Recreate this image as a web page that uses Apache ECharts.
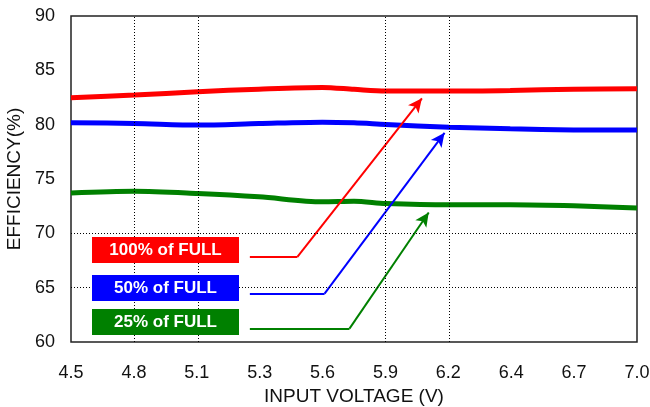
<!DOCTYPE html>
<html>
<head>
<meta charset="utf-8">
<script src="https://cdn.jsdelivr.net/npm/echarts@6/dist/echarts.min.js"></script>
<style>html,body{margin:0;padding:0;background:#fff}#c{width:650px;height:407px}</style>
</head>
<body>
<div id="c"></div>
<script>
// Data
var xTickLabels = ['4.5','4.8','5.1','5.3','5.6','5.9','6.2','6.4','6.7','7.0'];
var voltage = [4.5, 4.78, 5.06, 5.33, 5.61, 5.75, 5.89, 6.17, 6.44, 6.72, 7.0];
var eff100 = [82.47, 82.72, 83.03, 83.27, 83.43, 83.25, 83.09, 83.09, 83.15, 83.27, 83.3];
var eff50  = [80.17, 80.11, 79.96, 80.1, 80.23, 80.17, 80.02, 79.77, 79.62, 79.52, 79.5];
var eff25  = [73.72, 73.88, 73.67, 73.36, 72.9, 72.95, 72.75, 72.62, 72.62, 72.53, 72.34];
var seriesNames = ['100% of FULL', '50% of FULL', '25% of FULL'];
var seriesColors = ['#ff0000', '#0000ff', '#008000'];
// leader lines: [start, bend, arrow tip] in data units
var leader100 = [[5.29, 67.83], [5.50, 67.83], [6.05, 82.42]];
var leader50  = [[5.29, 64.46], [5.62, 64.46], [6.15, 79.25]];
var leader25  = [[5.29, 61.23], [5.73, 61.23], [6.08, 71.92]];
var gridY = [65, 70];
var gridXIdx = [1, 2, 5, 6];

var xMin = 4.5, xMax = 7.0, xStep = (xMax - xMin) / (xTickLabels.length - 1);
var font = '"Liberation Sans", Arial, sans-serif';

function pairs(xs, ys) { return xs.map(function (x, i) { return [x, ys[i]]; }); }
function leaderLines(pts, color) {
  return {
    silent: true, animation: false, z: 5,
    label: {show: false},
    lineStyle: {color: color, width: 2, type: 'solid'},
    data: [
      [{coord: pts[0], symbol: 'none'}, {coord: pts[1], symbol: 'none'}],
      [{coord: pts[1], symbol: 'none'}, {coord: pts[2], symbol: 'arrow', symbolSize: [10, 14]}]
    ]
  };
}
var leaders = [leader100, leader50, leader25];
var effs = [eff100, eff50, eff25];

var series = effs.map(function (e, i) {
  return {
    name: seriesNames[i], type: 'line', data: pairs(voltage, e),
    showSymbol: false, smooth: 0.3, z: 3,
    lineStyle: {color: seriesColors[i], width: 5},
    itemStyle: {color: seriesColors[i]},
    markLine: leaderLines(leaders[i], seriesColors[i])
  };
});
// dotted gridlines
series.push({
  type: 'line', data: [], z: 1, silent: true,
  markLine: {
    silent: true, symbol: 'none', label: {show: false}, animation: false,
    lineStyle: {color: '#000', width: 1, type: [1, 2]},
    data: gridY.map(function (v) { return {yAxis: v}; })
      .concat(gridXIdx.map(function (k) { return {xAxis: xMin + k * xStep}; }))
  }
});

var graphics = [];
var boxTops = [237, 275, 309];
seriesNames.forEach(function (n, i) {
  graphics.push({
    type: 'rect', left: 92, top: boxTops[i], z: 10,
    shape: {width: 147, height: 26},
    style: {fill: seriesColors[i]}
  });
  graphics.push({
    type: 'text', x: 92 + 73.5, y: boxTops[i] + 13, z: 11,
    style: {text: n, fill: '#fff', font: 'bold 17px ' + font, textAlign: 'center', textVerticalAlign: 'middle'}
  });
});

var chart = echarts.init(document.getElementById('c'), null, {renderer: 'canvas'});
chart.setOption({
  animation: false,
  grid: {left: 71, right: 13, top: 16, bottom: 65, show: true, borderColor: '#222', borderWidth: 1.5, backgroundColor: 'transparent', containLabel: false, outerBoundsMode: 'none'},
  xAxis: {
    type: 'value', min: xMin, max: xMax, interval: xStep,
    name: 'INPUT VOLTAGE (V)', nameLocation: 'middle', nameGap: 40,
    nameTextStyle: {fontFamily: font, fontSize: 19, color: '#111'},
    axisLine: {show: false}, axisTick: {show: false}, splitLine: {show: false},
    axisLabel: {
      fontFamily: font, fontSize: 18, color: '#111', margin: 22,
      formatter: function (v) { return xTickLabels[Math.round((v - xMin) / xStep)]; }
    }
  },
  yAxis: {
    type: 'value', min: 60, max: 90, interval: 5,
    name: 'EFFICIENCY(%)', nameLocation: 'middle', nameGap: 39,
    nameTextStyle: {fontFamily: font, fontSize: 19, color: '#111'},
    axisLine: {show: false}, axisTick: {show: false}, splitLine: {show: false},
    axisLabel: {fontFamily: font, fontSize: 18, color: '#111', margin: 16}
  },
  series: series,
  graphic: graphics
});
</script>
</body>
</html>
